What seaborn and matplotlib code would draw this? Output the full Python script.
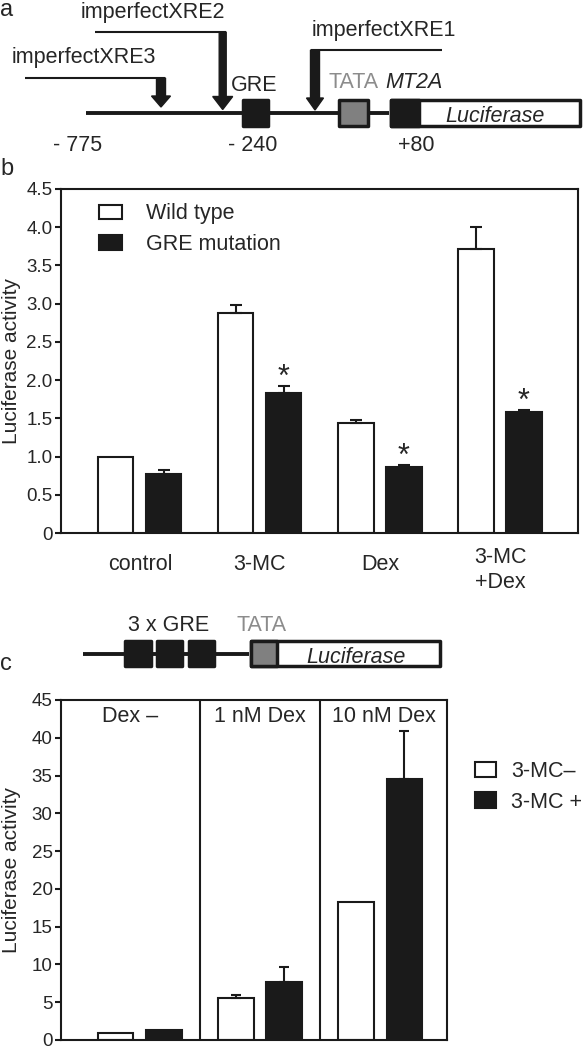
import matplotlib
matplotlib.use('Agg')
import matplotlib.pyplot as plt
import seaborn as sns
import pandas as pd
from matplotlib.patches import Rectangle, FancyArrow, Patch
from matplotlib.ticker import FuncFormatter, MultipleLocator
from matplotlib.transforms import ScaledTranslation

# panel b: MT2A promoter reporter, wild type vs GRE mutation
treatments = ['control', '3-MC', 'Dex', '3-MC\n+Dex']
wild_type = [1.0, 2.88, 1.44, 3.71]
wild_type_err = [0.0, 0.10, 0.035, 0.29]
gre_mutation = [0.77, 1.83, 0.86, 1.58]
gre_mutation_err = [0.05, 0.09, 0.03, 0.03]
significant = [False, True, True, True]
b_groups = ['Wild type', 'GRE mutation']

# panel c: 3 x GRE reporter
dex_doses = ['Dex –', '1 nM Dex', '10 nM Dex']
mc_minus = [0.9, 5.5, 18.2]
mc_minus_err = [0.0, 0.45, 0.0]
mc_plus = [1.35, 7.7, 34.5]
mc_plus_err = [0.0, 2.0, 6.4]
c_groups = ['3-MC–', '3-MC +']

BLACK = '#1a1a1a'
GRAY = '#808080'
TXT = 15.5

sns.set_style('ticks')
plt.rcParams['font.family'] = ['Liberation Sans', 'DejaVu Sans']

fig = plt.figure(figsize=(5.83, 10.5), dpi=100)

# overlay in pixel units for the schematics and panel letters
ov = fig.add_axes([0, 0, 1, 1])
ov.set_xlim(0, 583)
ov.set_ylim(1050, 0)
ov.axis('off')


def txt(x, y, s, ha='left', size=TXT, **kw):
    ov.text(x, y, s, ha=ha, va='baseline', fontsize=size, **kw)


def box(x0, x1, y0, y1, fc, lw=2.5):
    ov.add_patch(Rectangle((x0 + 1.5, y0 + 1.5), x1 - x0 - 3, y1 - y0 - 3,
                           facecolor=fc, edgecolor=BLACK, linewidth=lw,
                           joinstyle='round', zorder=3))


def hline(x0, x1, y, lw=1.5):
    ov.plot([x0, x1], [y, y], color=BLACK, lw=lw, solid_capstyle='butt', zorder=2)


def arrow(x, y0, y1, w, hw, hl):
    ov.add_patch(FancyArrow(x, y0, 0, y1 - y0, width=w, head_width=hw,
                            head_length=hl, length_includes_head=True,
                            color=BLACK, zorder=3))


# ---- panel a schematic
txt(0, 16, 'a', size=17)
hline(25, 165, 78)
arrow(161, 78, 107, 9, 19, 11)
hline(95, 226, 32)
arrow(222.7, 32, 109.5, 7, 20, 13)
hline(311, 442, 50)
arrow(315, 50, 110, 9, 17, 12)
txt(12, 63, 'imperfectXRE3')
txt(81, 18, 'imperfectXRE2')
txt(312, 36, 'imperfectXRE1')

hline(86, 389, 113, lw=2.8)
box(241, 269, 98, 127, BLACK)
box(337, 369, 98, 127, GRAY)
box(389, 581, 98, 127, 'white')
box(389, 420, 98, 127, BLACK)
txt(254, 91, 'GRE', ha='center')
txt(354, 88, 'TATA', ha='center', color='#8c8c8c')
txt(414, 88, 'MT2A', ha='center', style='italic')
txt(495, 122, 'Luciferase', ha='center', style='italic')
txt(78, 151, '- 775', ha='center')
txt(253, 151, '- 240', ha='center')
txt(416, 151, '+80', ha='center')

# ---- panel c schematic
txt(0, 670, 'c', size=17)
txt(0, 175, 'b', size=17)
hline(83, 249, 654, lw=2.8)
for x0, x1 in [(123, 152), (155, 183), (187, 215)]:
    box(x0, x1, 639, 667, BLACK)
box(249, 441, 639, 667, 'white')
box(249, 278, 639, 667, GRAY)
txt(169, 631, '3 x GRE', ha='center')
txt(262, 631, 'TATA', ha='center', color='#8c8c8c')
txt(356, 663, 'Luciferase', ha='center', style='italic')


def bar_panel(ax, cats, a, a_err, b, b_err, names, capsize):
    df = pd.DataFrame({
        'cat': cats * 2,
        'value': a + b,
        'group': [names[0]] * len(cats) + [names[1]] * len(cats),
    })
    sns.barplot(data=df, x='cat', y='value', hue='group', order=cats,
                hue_order=names, palette=['white', BLACK], saturation=1,
                edgecolor=BLACK, linewidth=1.5, width=0.8, gap=0.27,
                errorbar=None, legend=False, ax=ax)
    tops = []
    for cont, errs in zip(ax.containers, [a_err, b_err]):
        bars = sorted(cont, key=lambda r: r.get_x())
        row = []
        for bar, e in zip(bars, errs):
            x = bar.get_x() + bar.get_width() / 2
            h = bar.get_height()
            if e > 0:
                ax.errorbar(x, h, yerr=[[0], [e]], fmt='none', ecolor=BLACK,
                            elinewidth=1.5, capsize=capsize, capthick=1.5)
            row.append((x, h + e))
        tops.append(row)
    for s in ax.spines.values():
        s.set_linewidth(1.5)
        s.set_color(BLACK)
    ax.tick_params(axis='y', direction='out', length=4, width=1.5,
                   labelsize=13.5, pad=2, color=BLACK)
    ax.set_xlabel('')
    ax.set_ylabel('Luciferase activity', fontsize=15)
    return tops


def legend_handles(names):
    return [Patch(facecolor='white', edgecolor=BLACK, linewidth=1.5, label=names[0]),
            Patch(facecolor=BLACK, edgecolor=BLACK, linewidth=1.5, label=names[1])]


# ---- panel b
axb = fig.add_axes([61 / 583, 517 / 1050, 517 / 583, 344 / 1050])
tops_b = bar_panel(axb, treatments, wild_type, wild_type_err,
                   gre_mutation, gre_mutation_err, b_groups, 4.5)
axb.set_xlim(-0.658, len(treatments) - 1 + 0.65)
axb.set_ylim(0, 4.5)
axb.yaxis.set_major_locator(MultipleLocator(0.5))
axb.yaxis.set_major_formatter(FuncFormatter(lambda v, p: '0' if v == 0 else f'{v:.1f}'))
axb.tick_params(axis='x', length=0, pad=23, labelsize=TXT)
for lbl in axb.get_xticklabels():
    lbl.set_va('center')
    lbl.set_multialignment('center')
    if '\n' in lbl.get_text():
        lbl.set_transform(lbl.get_transform() +
                          ScaledTranslation(0, -5 / 100, fig.dpi_scale_trans))
for (x, top), sig in zip(tops_b[1], significant):
    if sig:
        axb.text(x, top + 0.0, '*', ha='center', va='baseline', fontsize=22)
axb.yaxis.set_label_coords(-0.0774, 0.5)
axb.legend(handles=legend_handles(b_groups), loc='upper left',
           bbox_to_anchor=(0.0735, 0.958), frameon=False, fontsize=TXT,
           handlelength=1.05, handleheight=0.68, handletextpad=1.15,
           labelspacing=0.45, borderpad=0, borderaxespad=0)

# ---- panel c
axc = fig.add_axes([61 / 583, 10 / 1050, 386 / 583, 340 / 1050])
bar_panel(axc, dex_doses, mc_minus, mc_minus_err, mc_plus, mc_plus_err,
          c_groups, 3.6)
axc.set_xlim(-0.658, len(dex_doses) - 1 + 0.558)
axc.set_ylim(0, 45)
axc.yaxis.set_major_locator(MultipleLocator(5))
axc.set_xticks([])
edges = [axc.get_xlim()[0]] + [i + 0.5 for i in range(len(dex_doses) - 1)] + [axc.get_xlim()[1]]
for e in edges[1:-1]:
    axc.axvline(e, color=BLACK, lw=1.5)
for lo, hi, name in zip(edges[:-1], edges[1:], dex_doses):
    axc.text((lo + hi) / 2, 0.936, name, transform=axc.get_xaxis_transform(),
             ha='center', va='baseline', fontsize=TXT)
axc.yaxis.set_label_coords(-0.1036, 0.5)
axc.legend(handles=legend_handles(c_groups), loc='upper left',
           bbox_to_anchor=(1.0725, 0.821), frameon=False, fontsize=TXT,
           handlelength=0.98, handleheight=0.74, handletextpad=0.7,
           labelspacing=0.45, borderpad=0, borderaxespad=0)

fig.savefig('out.png', dpi=100)
